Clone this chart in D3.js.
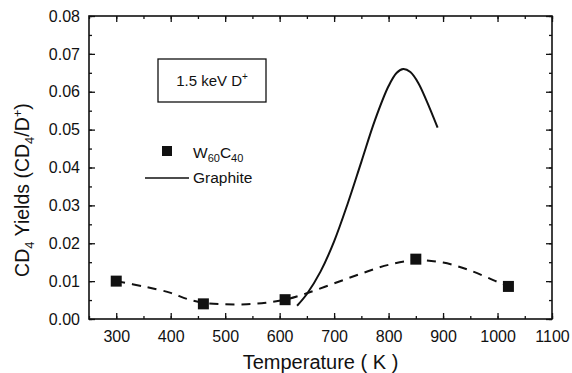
<!DOCTYPE html>
<html><head><meta charset="utf-8">
<script src="https://cdn.jsdelivr.net/npm/d3@7"></script>
<style>body{margin:0;background:#fff}svg{display:block}text{font-family:"Liberation Sans",Arial,sans-serif;fill:#111}</style>
</head><body><svg id="c" width="572" height="373"></svg>
<script>
// measured W60C40 points
const w60Temps = [300, 460, 610, 850, 1020];
const w60Yields = [0.0100, 0.0040, 0.0051, 0.0158, 0.0086];
// dashed guide curve through W60C40 data
const fitTemps = [300, 350, 400, 430, 460, 500, 540, 575, 610, 650, 700, 750, 800, 850, 900, 950, 1000, 1020];
const fitYields = [0.0100, 0.0086, 0.0069, 0.0053, 0.0043, 0.0039, 0.0039, 0.0043, 0.0051, 0.0068, 0.0094, 0.0120, 0.0143, 0.0155, 0.0149, 0.0128, 0.0098, 0.0087];
// graphite curve
const grTemps = [632, 650, 675, 700, 725, 750, 775, 800, 815, 827, 840, 855, 870, 890];
const grYields = [0.0035, 0.0066, 0.0125, 0.0205, 0.0305, 0.0415, 0.0525, 0.0615, 0.0650, 0.0660, 0.0652, 0.0622, 0.0575, 0.0505];
const xTicks = [300, 400, 500, 600, 700, 800, 900, 1000, 1100];
const yTicks = [0.00, 0.01, 0.02, 0.03, 0.04, 0.05, 0.06, 0.07, 0.08];

const svg = d3.select("#c");
const L = 89, R = 552, T = 16, B = 319;
const x = d3.scaleLinear().domain([250, 1100]).range([L, R]);
const y = d3.scaleLinear().domain([0, 0.08]).range([B, T]);
const xMinor = d3.range(250, 1101, 50);
const yMinor = d3.range(0, 0.0801, 0.005);

function tickAxis(axis, g) {
  g.call(axis);
  g.select(".domain").remove();
  g.selectAll("line").attr("stroke", "#111").attr("stroke-width", 1.3);
}
// minor ticks
svg.append("g").attr("transform", `translate(0,${B})`).call(g => tickAxis(d3.axisTop(x).tickValues(xMinor).tickSize(3).tickFormat(""), g));
svg.append("g").attr("transform", `translate(0,${T})`).call(g => tickAxis(d3.axisBottom(x).tickValues(xMinor).tickSize(3).tickFormat(""), g));
svg.append("g").attr("transform", `translate(${L},0)`).call(g => tickAxis(d3.axisRight(y).tickValues(yMinor).tickSize(3).tickFormat(""), g));
svg.append("g").attr("transform", `translate(${R},0)`).call(g => tickAxis(d3.axisLeft(y).tickValues(yMinor).tickSize(3).tickFormat(""), g));
// major ticks
svg.append("g").attr("transform", `translate(0,${B})`).call(g => tickAxis(d3.axisTop(x).tickValues(xTicks).tickSize(6).tickFormat(""), g));
svg.append("g").attr("transform", `translate(0,${T})`).call(g => tickAxis(d3.axisBottom(x).tickValues(xTicks).tickSize(6).tickFormat(""), g));
svg.append("g").attr("transform", `translate(${L},0)`).call(g => tickAxis(d3.axisRight(y).tickValues(yTicks).tickSize(6).tickFormat(""), g));
svg.append("g").attr("transform", `translate(${R},0)`).call(g => tickAxis(d3.axisLeft(y).tickValues(yTicks).tickSize(6).tickFormat(""), g));
// tick labels
svg.append("g").attr("transform", `translate(0,${B})`).call(g => {
  g.call(d3.axisBottom(x).tickValues(xTicks).tickSize(0).tickPadding(12).tickFormat(d3.format("d")));
  g.select(".domain").remove();
  g.selectAll("text").attr("font-size", 16).attr("font-family", "Liberation Sans, Arial, sans-serif").attr("fill", "#111");
});
svg.append("g").attr("transform", `translate(${L},0)`).call(g => {
  g.call(d3.axisLeft(y).tickValues(yTicks).tickSize(0).tickPadding(9).tickFormat(d3.format(".2f")));
  g.select(".domain").remove();
  g.selectAll("text").attr("font-size", 16).attr("font-family", "Liberation Sans, Arial, sans-serif").attr("fill", "#111");
});
// frame
svg.append("rect").attr("x", L).attr("y", T).attr("width", R - L).attr("height", B - T)
  .attr("fill", "none").attr("stroke", "#111").attr("stroke-width", 1.6);

// dashed fit
const fit = fitTemps.map((t, i) => [t, fitYields[i]]);
svg.append("path").datum(fit)
  .attr("d", d3.line().x(d => x(d[0])).y(d => y(d[1])).curve(d3.curveCatmullRom))
  .attr("fill", "none").attr("stroke", "#111").attr("stroke-width", 2).attr("stroke-dasharray", "9,7");
// graphite
const gr = grTemps.map((t, i) => [t, grYields[i]]);
svg.append("path").datum(gr)
  .attr("d", d3.line().x(d => x(d[0])).y(d => y(d[1])).curve(d3.curveCatmullRom))
  .attr("fill", "none").attr("stroke", "#111").attr("stroke-width", 2);
// points
const s = 11;
svg.append("g").selectAll("rect").data(w60Temps.map((t, i) => [t, w60Yields[i]])).join("rect")
  .attr("x", d => x(d[0]) - s / 2).attr("y", d => y(d[1]) - s / 2).attr("width", s).attr("height", s).attr("fill", "#111");

// annotation box
svg.append("rect").attr("x", 158).attr("y", 59).attr("width", 108).attr("height", 43)
  .attr("fill", "none").attr("stroke", "#111").attr("stroke-width", 1.3);
const ann = svg.append("text").attr("x", 212).attr("y", 86).attr("text-anchor", "middle").attr("font-size", 15);
ann.append("tspan").text("1.5 keV D");
ann.append("tspan").attr("dy", -6).attr("font-size", 10).text("+");

// legend
svg.append("rect").attr("x", 162).attr("y", 146).attr("width", 10).attr("height", 10).attr("fill", "#111");
const lw = svg.append("text").attr("x", 193).attr("y", 158).attr("font-size", 15.5);
lw.append("tspan").text("W");
lw.append("tspan").attr("dy", 4).attr("font-size", 11).text("60");
lw.append("tspan").attr("dy", -4).text("C");
lw.append("tspan").attr("dy", 4).attr("font-size", 11).text("40");
svg.append("line").attr("x1", 145).attr("x2", 189).attr("y1", 178).attr("y2", 178).attr("stroke", "#111").attr("stroke-width", 1.6);
svg.append("text").attr("x", 193).attr("y", 183).attr("font-size", 15.5).text("Graphite");

// axis titles
svg.append("text").attr("x", (L + R) / 2).attr("y", 369).attr("text-anchor", "middle").attr("font-size", 20).text("Temperature ( K )");
const yt = svg.append("text").attr("transform", "translate(29,190) rotate(-90)").attr("text-anchor", "middle").attr("font-size", 19.5);
yt.append("tspan").text("CD");
yt.append("tspan").attr("dy", 5).attr("font-size", 13).text("4");
yt.append("tspan").attr("dy", -5).text(" Yields (CD");
yt.append("tspan").attr("dy", 5).attr("font-size", 13).text("4");
yt.append("tspan").attr("dy", -5).text("/D");
yt.append("tspan").attr("dy", -7).attr("font-size", 13).text("+");
yt.append("tspan").attr("dy", 7).text(")");
</script></body></html>
